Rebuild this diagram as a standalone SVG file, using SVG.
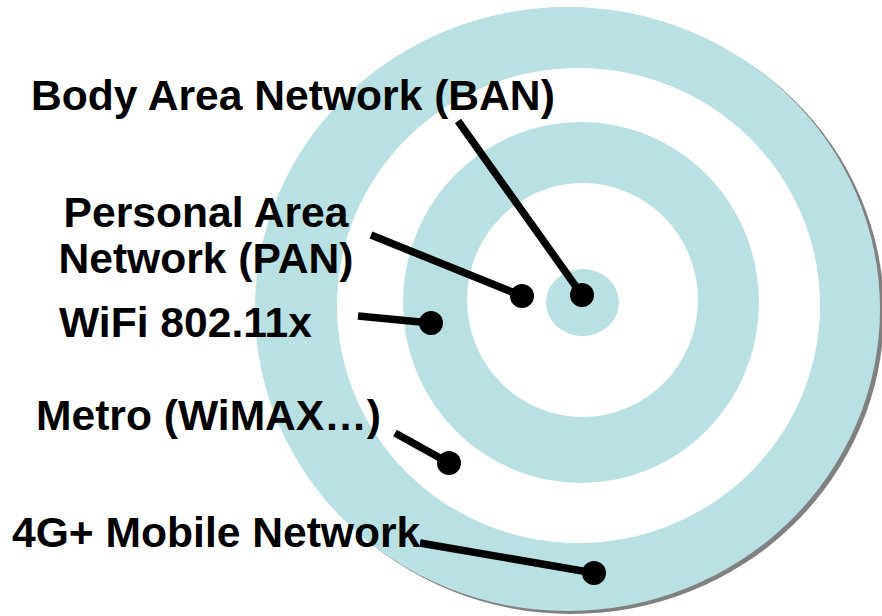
<svg xmlns="http://www.w3.org/2000/svg" width="882" height="616" viewBox="0 0 882 616">
<style>
.teal{fill:#B9E0E3}
.white{fill:#FFFFFF}
.lbl{font-family:"Liberation Sans",Arial,sans-serif;font-weight:bold;font-size:42.6px;fill:#000}
.conn line{stroke:#000;stroke-width:7.5;stroke-linecap:butt}
.conn circle{fill:#000}
</style>
<rect width="882" height="616" fill="#FFFFFF"/>
<g id="rings">
<ellipse cx="571.5" cy="312" rx="312.5" ry="302" fill="#808080"/>
<ellipse class="teal" cx="567.5" cy="309" rx="312.5" ry="302"/>
<ellipse class="white" cx="578.5" cy="305.5" rx="241.5" ry="237.5"/>
<ellipse class="teal" cx="581" cy="302.5" rx="178" ry="180.5"/>
<ellipse class="white" cx="582.5" cy="300" rx="115.5" ry="117"/>
<ellipse class="teal" cx="582.5" cy="302.5" rx="36.5" ry="33.5"/>
</g>
<g id="ban"><text class="lbl" x="31" y="110">Body Area Network (BAN)</text></g>
<g id="pan"><text class="lbl" x="206" y="227" text-anchor="middle">Personal Area</text><text class="lbl" x="206" y="273" text-anchor="middle">Network (PAN)</text></g>
<g id="wifi"><text class="lbl" x="59" y="337">WiFi 802.11x</text></g>
<g id="metro"><text class="lbl" x="36" y="430">Metro (WiMAX…)</text></g>
<g id="mobile"><text class="lbl" x="12" y="547">4G+ Mobile Network</text></g>
<g id="connectors" class="conn">
<line x1="458" y1="121" x2="582" y2="295"/><circle cx="582" cy="295" r="12"/>
<line x1="371" y1="235" x2="522" y2="296"/><circle cx="522" cy="296" r="12"/>
<line x1="358" y1="316" x2="431" y2="323"/><circle cx="431" cy="323" r="12"/>
<line x1="395" y1="433" x2="449" y2="463"/><circle cx="449" cy="463" r="12"/>
<line x1="420" y1="543" x2="594" y2="573"/><circle cx="594" cy="573" r="12"/>
</g>
</svg>
